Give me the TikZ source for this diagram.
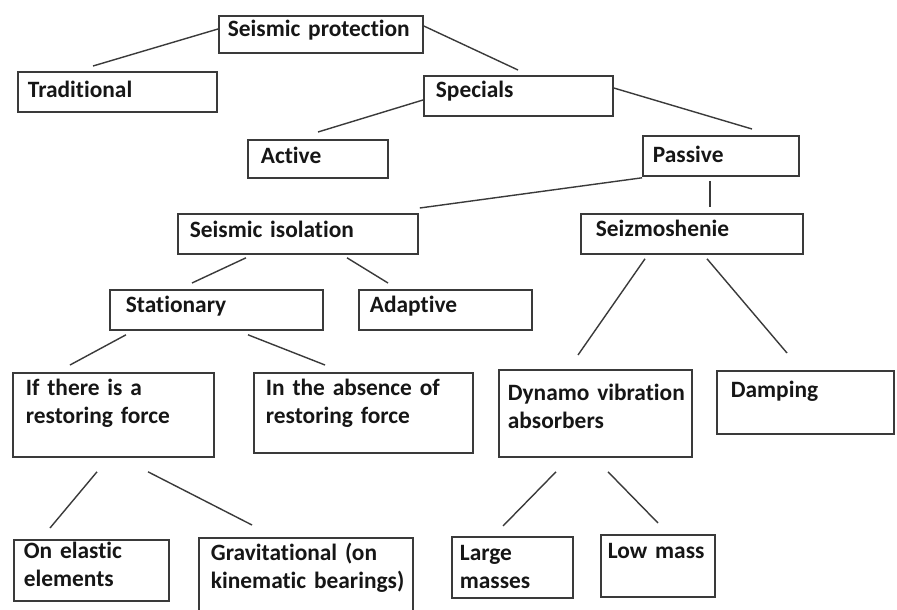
\documentclass[tikz,border=0pt]{standalone}
\usepackage{fontspec}
\setmainfont{Carlito}[Ligatures=NoCommon]
\usetikzlibrary{calc}
\definecolor{edgegray}{HTML}{3A3A3A}
\definecolor{inkblack}{HTML}{161616}

\begin{document}
\begin{tikzpicture}[x=1pt, y=-1pt,
    box/.style={rectangle, draw=edgegray, line width=1.8pt, anchor=north west, align=left, inner ysep=0pt, inner xsep=11pt, text height=23pt, text=inkblack, font=\fontsize{23.4}{28}\selectfont\bfseries, execute at begin node={\hyphenpenalty=10000}},
    link/.style={draw=edgegray, line width=1.4pt}]
    \useasboundingbox [fill=white] (0,0) rectangle (897,610);
    % level 0 and 1
    \node [box, inner xsep=9pt, text width=186pt, text height=21pt, text depth=16pt] (sp) at (218,15) {Seismic protection};
    \node [box, inner xsep=10pt, text width=179pt, text height=26pt, text depth=14pt] (trad) at (17,71) {Traditional};
    \node [box, inner xsep=12pt, text width=165pt, text height=22pt, text depth=18pt] (spec) at (423,75) {Specials};
    % level 2
    \node [box, inner xsep=13pt, text width=114pt, text height=24pt, text depth=14pt] (act) at (247,139) {Active};
    \node [box, inner xsep=10pt, text width=136pt, text height=27pt, text depth=13pt] (pas) at (642,135) {Passive};
    % level 3
    \node [box, inner xsep=12pt, text width=216pt, text height=24pt, text depth=16pt] (si) at (177,213) {Seismic isolation};
    \node [box, inner xsep=15pt, text width=192pt, text depth=17pt] (seiz) at (580,213) {Seizmoshenie};
    \node [box, inner xsep=16pt, text width=181pt, text depth=17pt] (stat) at (109,289) {Stationary};
    \node [box, text width=151pt, text depth=17pt] (adap) at (358,289) {Adaptive};
    % level 4
    \node [box, inner xsep=13pt, text width=175pt, text depth=61pt] (ifr) at (12,372) {If there is a\\restoring force};
    \node [box, inner xsep=12pt, text width=195pt, text depth=57pt] (absr) at (253,372) {\mbox{In the absence of}\\restoring force};
    \node [box, inner xsep=9pt, text width=175pt, text height=31pt, text depth=56pt] (dyn) at (498,369) {\mbox{Dynamo vibration}\\absorbers};
    \node [box, inner xsep=14pt, text width=149pt, text height=27pt, text depth=36pt] (damp) at (716,370) {Damping};
    % level 5
    \node [box, inner xsep=10pt, text width=135pt, text height=19pt, text depth=42pt] (elast) at (13,539) {On elastic\\elements};
    \node [box, inner xsep=12pt, text width=190pt, text depth=57pt] (grav) at (198,537) {\mbox{Gravitational (on}\\\mbox{kinematic bearings)}};
    \node [box, inner xsep=8pt, text width=105pt, text height=24pt, text depth=37pt] (large) at (451,536) {Large\\masses};
    \node [box, inner xsep=7pt, text width=100pt, text height=24pt, text depth=38pt] (low) at (600,534) {Low mass};
    % connectors
    \draw [link] ($(sp.north west)+(0,14)$) -- ($(trad.north west)+(76,-5)$);
    \draw [link] ($(sp.north east)+(0,11)$) -- ($(spec.north west)+(95,-5)$);
    \draw [link] ($(spec.north west)+(0,25)$) -- ($(act.north west)+(71,-7)$);
    \draw [link] ($(spec.north east)+(0,13)$) -- ($(pas.north west)+(110,-6)$);
    \draw [link] ($(pas.south west)+(0,1)$) -- ($(si.north east)+(1,-5)$);
    \draw [link] ($(pas.south west)+(68,4)$) -- ($(seiz.north west)+(130,-6)$);
    \draw [link] ($(si.south west)+(69,3)$) -- ($(stat.north west)+(83,-6)$);
    \draw [link] ($(si.south west)+(170,3)$) -- ($(adap.north west)+(30,-6)$);
    \draw [link] ($(seiz.south west)+(65,4)$) -- ($(dyn.north west)+(80,-14)$);
    \draw [link] ($(seiz.south west)+(127,4)$) -- ($(damp.north west)+(71,-17)$);
    \draw [link] ($(stat.south west)+(17,4)$) -- ($(ifr.north west)+(58,-7)$);
    \draw [link] ($(stat.south west)+(139,4)$) -- ($(absr.north west)+(72,-7)$);
    \draw [link] ($(ifr.south west)+(85,14)$) -- ($(elast.north west)+(37,-11)$);
    \draw [link] ($(ifr.south west)+(136,14)$) -- ($(grav.north west)+(54,-12)$);
    \draw [link] ($(dyn.south west)+(58,14)$) -- ($(large.north west)+(52,-10)$);
    \draw [link] ($(dyn.south west)+(110,14)$) -- ($(low.north west)+(58,-11)$);
\end{tikzpicture}
\end{document}
